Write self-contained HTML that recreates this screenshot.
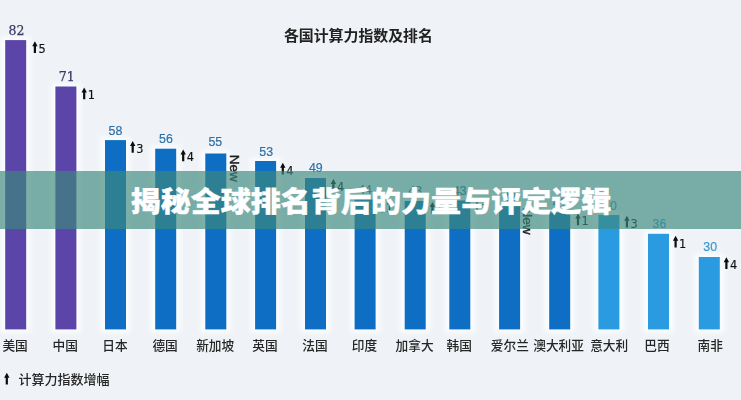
<!DOCTYPE html>
<html lang="zh-CN"><head><meta charset="utf-8"><title>揭秘全球排名背后的力量与评定逻辑</title>
<style>
html,body{margin:0;padding:0;}
body{width:741px;height:400px;overflow:hidden;background:#eff3f7;font-family:"Liberation Sans","Noto Sans CJK SC",sans-serif;}
#c{position:relative;width:741px;height:400px;overflow:hidden;background:#eff3f7;}
#chart{position:absolute;left:0;top:0;width:741px;height:400px;filter:blur(0.35px);}
#chart text{font-family:"Liberation Sans","Noto Sans CJK SC",sans-serif;}
.v{font-size:13.3px;text-anchor:middle;stroke-width:0.2px;}
#chart text.s{font-family:"DejaVu Serif","Liberation Serif",serif;font-size:12.5px;stroke:#3a3a64;stroke-width:0.25px;}
.n{font-size:12.7px;font-weight:500;text-anchor:middle;fill:#262626;}
#chart text.d{font-family:"DejaVu Sans Condensed","DejaVu Sans","Liberation Sans",sans-serif;font-stretch:condensed;font-size:12.6px;fill:#111;stroke:#111;stroke-width:0.15px;}
.nw{font-size:13.5px;fill:#1c1c1c;stroke:#1c1c1c;stroke-width:0.45px;}
.t{font-size:14.9px;font-weight:700;fill:#222;text-anchor:middle;}
.lg{font-size:13px;font-weight:500;fill:#262626;}
#bn{position:absolute;left:0;top:171px;width:741px;height:58px;background:rgba(61,137,125,0.67);}
#h{position:absolute;left:0;top:171px;width:741px;height:58px;line-height:58px;text-align:center;color:#fff;font-family:"Noto Sans CJK SC","Liberation Sans",sans-serif;font-weight:900;font-size:30.05px;white-space:nowrap;-webkit-text-stroke:0.4px #fff;transform:translate(0.5px,-0.7px) scaleY(0.945);}
</style></head><body><div id="c">
<svg id="chart" viewBox="0 0 741 400">
<defs><filter id="hb" x="-5%" y="-5%" width="110%" height="110%"><feGaussianBlur stdDeviation="2.4"/></filter></defs>
<g filter="url(#hb)" fill="#fbfdff">
<rect x="0.7" y="37.1" width="30.0" height="295.3"/>
<rect x="50.9" y="83.5" width="30.0" height="248.9"/>
<rect x="100.5" y="137.1" width="30.0" height="195.3"/>
<rect x="150.7" y="145.7" width="30.0" height="186.7"/>
<rect x="200.8" y="150.5" width="30.0" height="181.9"/>
<rect x="250.6" y="158.0" width="30.0" height="174.4"/>
<rect x="300.5" y="175.0" width="30.0" height="157.4"/>
<rect x="350.1" y="196.5" width="30.0" height="135.9"/>
<rect x="400.2" y="198.0" width="30.0" height="134.4"/>
<rect x="444.8" y="197.5" width="30.0" height="134.9"/>
<rect x="494.6" y="203.3" width="30.0" height="129.1"/>
<rect x="544.7" y="209.5" width="30.0" height="122.9"/>
<rect x="593.9" y="212.0" width="30.0" height="120.4"/>
<rect x="643.5" y="230.8" width="30.0" height="101.6"/>
<rect x="694.3" y="254.0" width="30.0" height="78.4"/>
</g>
<text class="t" x="358.4" y="40.8">各国计算力指数及排名</text>
<rect x="5.2" y="40.1" width="21" height="289.30" fill="#5b45a8"/>
<text class="v s" x="16.5" y="34.5" fill="#3a3a64">82</text>
<text class="n" x="15.1" y="350.4">美国</text>
<path d="M34.90 41.30 l2.7 5 h-1.6 v6.70 h-2.2 v-6.70 h-1.6 z" fill="#0c0c0c"/>
<text class="d" x="38.4" y="53.0">5</text>
<rect x="55.4" y="86.5" width="21" height="242.90" fill="#5b45a8"/>
<text class="v s" x="66.7" y="80.5" fill="#3a3a64">71</text>
<text class="n" x="65.3" y="350.4">中国</text>
<path d="M84.20 87.50 l2.7 5 h-1.6 v6.70 h-2.2 v-6.70 h-1.6 z" fill="#0c0c0c"/>
<text class="d" x="87.7" y="99.2">1</text>
<rect x="105" y="140.1" width="21" height="189.30" fill="#0d6ec3"/>
<text class="v" transform="translate(115.5 134.8) scale(0.93 1)" fill="#2e70a6" stroke="#2e70a6">58</text>
<text class="n" x="114.9" y="350.4">日本</text>
<path d="M132.70 141.00 l2.7 5 h-1.6 v6.70 h-2.2 v-6.70 h-1.6 z" fill="#0c0c0c"/>
<text class="d" x="136.2" y="152.7">3</text>
<rect x="155.2" y="148.7" width="21" height="180.70" fill="#0d6ec3"/>
<text class="v" transform="translate(165.9 143.3) scale(0.93 1)" fill="#2e70a6" stroke="#2e70a6">56</text>
<text class="n" x="165.1" y="350.4">德国</text>
<path d="M183.20 149.50 l2.7 5 h-1.6 v6.70 h-2.2 v-6.70 h-1.6 z" fill="#0c0c0c"/>
<text class="d" x="186.7" y="161.2">4</text>
<rect x="205.3" y="153.5" width="21" height="175.90" fill="#0d6ec3"/>
<text class="v" transform="translate(215.3 145.8) scale(0.93 1)" fill="#2e70a6" stroke="#2e70a6">55</text>
<text class="n" x="215.2" y="350.4">新加坡</text>
<text class="nw" transform="translate(229.5 154.7) rotate(90)" x="0" y="0">New</text>
<rect x="255.1" y="161" width="21" height="168.40" fill="#0d6ec3"/>
<text class="v" transform="translate(266.2 155.5) scale(0.93 1)" fill="#2e70a6" stroke="#2e70a6">53</text>
<text class="n" x="265.0" y="350.4">英国</text>
<path d="M282.80 162.80 l2.7 5 h-1.6 v6.70 h-2.2 v-6.70 h-1.6 z" fill="#0c0c0c"/>
<text class="d" x="286.3" y="174.5">4</text>
<rect x="305" y="178" width="21" height="151.40" fill="#0d6ec3"/>
<text class="v" transform="translate(315.8 172.0) scale(0.93 1)" fill="#2e70a6" stroke="#2e70a6">49</text>
<text class="n" x="314.9" y="350.4">法国</text>
<path d="M333.40 179.10 l2.7 5 h-1.6 v6.70 h-2.2 v-6.70 h-1.6 z" fill="#0c0c0c"/>
<text class="d" x="336.9" y="190.8">4</text>
<rect x="354.6" y="199.5" width="21" height="129.90" fill="#0d6ec3"/>
<text class="v" transform="translate(365.1 193.8) scale(0.93 1)" fill="#2e70a6" stroke="#2e70a6">44</text>
<text class="n" x="364.5" y="350.4">印度</text>
<path d="M382.30 200.50 l2.7 5 h-1.6 v6.70 h-2.2 v-6.70 h-1.6 z" fill="#0c0c0c"/>
<text class="d" x="385.8" y="212.2">1</text>
<rect x="404.7" y="201" width="21" height="128.40" fill="#0d6ec3"/>
<text class="v" transform="translate(415.2 195.3) scale(0.93 1)" fill="#2e70a6" stroke="#2e70a6">43</text>
<text class="n" x="414.6" y="350.4">加拿大</text>
<path d="M432.40 202.00 l2.7 5 h-1.6 v6.70 h-2.2 v-6.70 h-1.6 z" fill="#0c0c0c"/>
<text class="d" x="435.9" y="213.7">1</text>
<rect x="449.3" y="200.5" width="21" height="128.90" fill="#0d6ec3"/>
<text class="v" transform="translate(459.8 194.8) scale(0.93 1)" fill="#2e70a6" stroke="#2e70a6">43</text>
<text class="n" x="459.2" y="350.4">韩国</text>
<path d="M477.00 201.50 l2.7 5 h-1.6 v6.70 h-2.2 v-6.70 h-1.6 z" fill="#0c0c0c"/>
<text class="d" x="480.5" y="213.2">3</text>
<rect x="499.1" y="206.3" width="21" height="123.10" fill="#0d6ec3"/>
<text class="v" transform="translate(509.6 200.6) scale(0.93 1)" fill="#2e70a6" stroke="#2e70a6">42</text>
<text class="n" x="509.9" y="350.4">爱尔兰</text>
<text class="nw" transform="translate(523.3 207.5) rotate(90)" x="0" y="0">New</text>
<rect x="549.2" y="212.5" width="21" height="116.90" fill="#0d6ec3"/>
<text class="v" transform="translate(559.7 206.8) scale(0.93 1)" fill="#2e70a6" stroke="#2e70a6">41</text>
<text class="n" x="558.6" y="350.4">澳大利亚</text>
<path d="M578.00 213.60 l2.7 5 h-1.6 v6.70 h-2.2 v-6.70 h-1.6 z" fill="#0c0c0c"/>
<text class="d" x="581.5" y="225.3">1</text>
<rect x="598.4" y="215" width="21" height="114.40" fill="#2a9be0"/>
<text class="v" transform="translate(609.9 209.5) scale(0.93 1)" fill="#3d97cc" stroke="#3d97cc">40</text>
<text class="n" x="609.2" y="350.4">意大利</text>
<path d="M626.90 215.80 l2.7 5 h-1.6 v6.70 h-2.2 v-6.70 h-1.6 z" fill="#0c0c0c"/>
<text class="d" x="630.4" y="227.5">3</text>
<rect x="648" y="233.8" width="21" height="95.60" fill="#2a9be0"/>
<text class="v" transform="translate(659.5 228.0) scale(0.93 1)" fill="#3d97cc" stroke="#3d97cc">36</text>
<text class="n" x="657.0" y="350.4">巴西</text>
<path d="M675.60 235.80 l2.7 5 h-1.6 v6.70 h-2.2 v-6.70 h-1.6 z" fill="#0c0c0c"/>
<text class="d" x="679.1" y="247.5">1</text>
<rect x="698.8" y="257" width="21" height="72.40" fill="#2a9be0"/>
<text class="v" transform="translate(710.2 250.8) scale(0.93 1)" fill="#3d97cc" stroke="#3d97cc">30</text>
<text class="n" x="710.3" y="350.4">南非</text>
<path d="M726.40 257.20 l2.7 5 h-1.6 v6.70 h-2.2 v-6.70 h-1.6 z" fill="#0c0c0c"/>
<text class="d" x="729.9" y="268.9">4</text>
<path d="M6.80 372.80 l2.7 5 h-1.6 v6.70 h-2.2 v-6.70 h-1.6 z" fill="#0c0c0c"/>
<text class="lg" x="18.5" y="384">计算力指数增幅</text>
</svg>
<div id="bn"></div>
<div id="h">揭秘全球排名背后的力量与评定逻辑</div>
</div></body></html>
